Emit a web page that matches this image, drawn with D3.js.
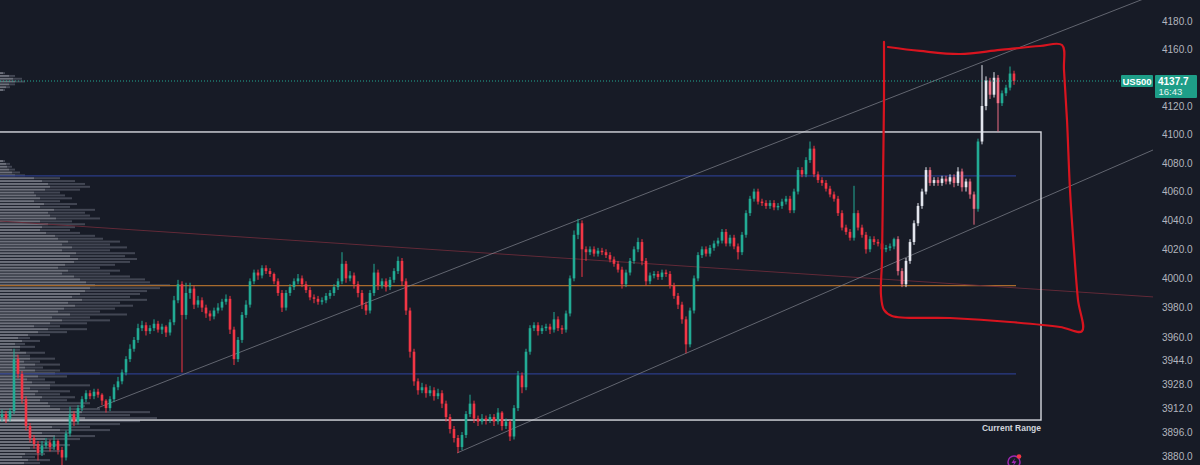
<!DOCTYPE html>
<html><head><meta charset="utf-8">
<script src="https://cdn.jsdelivr.net/npm/d3@7"></script>
<style>html,body{margin:0;padding:0;background:#171b26;overflow:hidden}</style>
</head><body><svg id="c" width="1200" height="465"></svg>
<script>
// ---------- DATA ----------
const symbol = "US500";
const lastPrice = 4137.7;
const countdown = "16:43";
const rangeLabel = "Current Range";
// 4140.0 sits behind the last-price label in the reference
const priceTicks = [4180,4160,4120,4100,4080,4060,4040,4020,4000,3980,3960,3944,3928,3912,3896,3880];
const firstOpen = 3906;
const closes = [
3908,3905,3910,3945,3935,3918,3900,3892,3888,3882,
3887,3889,3886,3890,3884,3879,3895,3908,3903,3912,
3918,3922,3920,3923,3921,3917,3912,3918,3926,3930,
3936,3945,3952,3958,3966,3968,3964,3966,3969,3965,
3967,3963,3970,3985,3996,3975,3990,3993,3982,3985,
3980,3976,3974,3978,3980,3984,3986,3965,3945,3958,
3975,3982,3998,4004,4002,4007,4005,4003,3998,3990,
3980,3990,3994,3998,4000,3996,3992,3987,3986,3984,
3985,3988,3990,3994,3998,4010,4000,4002,3996,3990,
3982,3978,3990,4004,3995,3998,3994,3999,4005,4012,
3998,3978,3950,3930,3924,3926,3922,3924,3920,3922,
3915,3906,3898,3892,3886,3894,3908,3915,3905,3903,
3905,3904,3906,3903,3909,3900,3903,3893,3912,3934,
3926,3950,3966,3968,3964,3966,3967,3965,3972,3966,
3965,3976,4000,4030,4038,4020,4018,4020,4017,4019,
4018,4016,4013,4010,4006,3996,4004,4012,4020,4025,
4012,3998,4002,4003,4001,4004,4003,3995,3988,3982,
3972,3955,3978,4000,4016,4020,4017,4021,4024,4026,
4032,4024,4028,4022,4018,4030,4045,4055,4060,4053,
4052,4050,4052,4049,4050,4053,4055,4047,4060,4075,
4072,4082,4090,4072,4068,4066,4062,4058,4055,4045,
4035,4032,4028,4045,4035,4030,4020,4027,4025,4024,
4020,4021,4022,4027,4005,3996,4012,4025,4038,4050,
4060,4075,4066,4068,4066,4069,4067,4070,4066,4074,
4063,4067,4058,4048,4095,4120,4138,4128,4140,4122,
4129,4133,4143,4137.7];
const highs = [
3911,3910,3912,3952,3948,3937,3920,3902,3894,3890,
3890,3892,3891,3893,3891,3886,3897,3913,3910,3914,
3920,3924,3924,3925,3925,3922,3918,3920,3928,3933,
3938,3947,3955,3960,3969,3971,3970,3968,3972,3971,
3969,3968,3972,3988,3999,3998,3997,3997,3995,3988,
3987,3982,3978,3980,3983,3986,3989,3988,3967,3960,
3977,3985,4000,4006,4006,4009,4009,4007,4004,4000,
3992,3992,3996,4000,4003,4002,3998,3994,3989,3988,
3987,3990,3992,3996,4000,4018,4012,4005,4004,3998,
3992,3984,3992,4010,4006,4000,4000,4001,4007,4015,
4014,4000,3980,3952,3932,3929,3928,3927,3926,3925,
3924,3917,3908,3900,3894,3896,3910,3921,3917,3907,
3908,3907,3908,3908,3912,3910,3905,3904,3914,3937,
3936,3952,3968,3970,3970,3968,3969,3969,3977,3974,
3968,3978,4002,4033,4041,4040,4022,4022,4022,4021,
4021,4020,4018,4015,4012,4008,4006,4014,4022,4028,
4027,4014,4004,4005,4005,4006,4006,4005,3997,3990,
3984,3974,3980,4002,4018,4022,4022,4023,4026,4028,
4034,4034,4030,4030,4024,4032,4047,4057,4062,4062,
4055,4054,4054,4054,4052,4055,4057,4057,4062,4077,
4077,4084,4095,4092,4074,4070,4068,4064,4060,4057,
4047,4037,4034,4064,4047,4037,4032,4029,4029,4027,
4026,4023,4024,4028,4029,4007,4014,4027,4040,4052,
4062,4077,4077,4070,4070,4071,4071,4072,4072,4077,
4076,4069,4069,4060,4097,4149,4141,4140,4144,4142,
4131,4135,4148,4145];
const lows = [
3903,3902,3903,3908,3932,3915,3897,3889,3885,3877,
3880,3885,3883,3884,3881,3874,3877,3893,3900,3901,
3910,3916,3918,3918,3919,3914,3909,3910,3916,3924,
3928,3934,3943,3950,3956,3964,3961,3962,3964,3963,
3962,3960,3961,3968,3983,3936,3972,3986,3979,3980,
3977,3973,3971,3972,3976,3978,3982,3962,3941,3943,
3956,3973,3980,3996,3999,4000,4003,4001,3996,3988,
3977,3978,3988,3992,3996,3994,3990,3985,3983,3982,
3982,3983,3986,3988,3992,3996,3997,3998,3993,3987,
3979,3975,3976,3988,3992,3993,3991,3992,3997,4003,
3995,3975,3946,3927,3921,3922,3919,3920,3917,3918,
3912,3903,3895,3889,3882,3884,3892,3906,3902,3900,
3901,3901,3902,3900,3901,3897,3898,3890,3891,3910,
3922,3924,3948,3964,3961,3962,3964,3962,3963,3964,
3962,3963,3974,3998,4027,4001,4012,4016,4015,4015,
4016,4014,4011,4008,4004,3993,3994,4002,4010,4018,
4009,3995,3996,4000,3999,3999,4001,3993,3986,3979,
3969,3949,3953,3976,3998,4014,4015,4015,4019,4022,
4024,4022,4022,4020,4013,4016,4028,4043,4053,4051,
4050,4048,4048,4047,4047,4048,4051,4045,4045,4058,
4070,4070,4080,4070,4066,4064,4060,4056,4053,4043,
4033,4030,4026,4026,4033,4028,4017,4018,4023,4022,
4018,4018,4019,4020,4002,3994,3994,4010,4023,4036,
4048,4058,4064,4064,4064,4064,4065,4065,4063,4064,
4060,4060,4055,4037,4046,4093,4117,4125,4126,4102,
4120,4127,4131,4135];
// candle index spans drawn in the "highlight" bar colours
const highlightSpans = [[224,243],[245,249]];

// volume profile (2-point price bins starting at vpBase)
const vpBase = 3874, vpStep = 2;
const vpUp = [
24,28,22,
25,36,30,40,32, 45,55,42,60,52, 70,78,85,74,82, 60,50,48,40,42,
35,38,30,50,32, 27,38,55,35,25, 35,24,30,18,26, 12,20,15,22,18,
28,38,48,34,50, 62,52,70,58,64, 75,68,82,72,80, 85,90,95,86,80,
74,62,68,58,65, 74,78,70,76,62, 72,62,68,58,55, 46,40,42,48,40,
56,50,48,54,40, 44,34,40,36,34, 45,50,48,42,34, 15,12,9,7,6,
3,
0,0,0,0,0,0,0,0,0,0,0,0,0,0,0,0,0,0,0,0,0,0,0,0,
3,6,9,15,13,9,3];
const vpDown = [
16,22,13,
20,24,25,30,18, 35,40,28,50,38, 50,62,72,56,68, 40,35,42,27,33,
25,32,20,40,23, 18,29,45,25,18, 25,16,25,12,19, 8,15,10,18,12,
22,29,39,26,37, 48,38,57,42,51, 58,52,65,58,60, 62,70,75,64,65,
56,48,52,42,50, 56,59,55,59,48, 55,48,52,45,40, 34,30,33,37,32,
44,40,37,41,30, 33,26,32,29,26, 35,40,37,33,26, 10,8,6,5,4,
2,
0,0,0,0,0,0,0,0,0,0,0,0,0,0,0,0,0,0,0,0,0,0,0,0,
2,4,6,10,9,6,2];

// horizontal levels
const blueLevels = [4071, 3935];
const orangeLevel = 3995;
// range box (candle index span + price span)
const rangeStart = -40, rangeEnd = 259.75, rangeTop = 4101.7, rangeBottom = 3904;
// trend lines: [index, price] pairs
const upperChannel = [[23.75,3912],[274.5,4184.1]];
const lowerChannel = [[113.75,3882],[274.5,4072.9]];
const fallingLine = [[-0.5,4039.5],[299.5,3985.2]];
// hand drawn annotation (index, price)
const annotation = [[220.5,4165.5],[220.5,4124.2],[220.25,4068.0],[220,4012.6],[219.75,3988.6],[220.5,3978.4],[222.5,3974.3],[237,3972.9],[252,3970.2],[264.5,3966.8],[270,3964.0],[269,3985.2],[268,4019.5],[267,4061.1],[266.25,4110.1],[265.5,4145.5],[265,4163.3],[259.5,4162.6],[249.5,4159.8],[239.5,4156.9],[229.5,4159.1],[221.5,4161.9]];

// ---------- CHART ----------
const W = 1200, H = 465, plotRight = 1153;
const svg = d3.select('#c');
const FONT = '"Liberation Sans", Arial, sans-serif';
svg.append('rect').attr('width', W).attr('height', H).attr('fill', '#171b26');
svg.append('defs').append('clipPath').attr('id','clip').append('rect').attr('x',0).attr('y',0).attr('width',plotRight).attr('height',H);

const y = d3.scaleLog().domain([3880, 4180]).range([456, 21.7]);
const x = d3.scaleLinear().domain([-0.5, 253.5]).range([0, 1016]);
const vpW = d3.scaleLinear().domain([0, 170]).range([0, 170]);

const g = svg.append('g').attr('clip-path','url(#clip)');

// volume profile
const vp = g.append('g');
vpUp.forEach((u, k) => {
  const d = vpDown[k];
  if (u + d <= 0) return;
  const p0 = vpBase + k * vpStep;
  const yTop = y(p0 + vpStep), yBot = y(p0);
  const h = Math.max(1, (yBot - yTop) - 0.9);
  vp.append('rect').attr('x', 0).attr('y', yTop).attr('width', vpW(u)).attr('height', h).attr('fill', '#777a85').attr('opacity', 0.9);
  vp.append('rect').attr('x', vpW(u)).attr('y', yTop).attr('width', vpW(d)).attr('height', h).attr('fill', '#454955').attr('opacity', 0.95);
});

// horizontal levels
const lvlEnd = x(253.5);
blueLevels.forEach(p => {
  g.append('line').attr('x1', 0).attr('x2', lvlEnd).attr('y1', y(p)).attr('y2', y(p)).attr('stroke', '#2b3d88').attr('stroke-width', 1.2);
});
g.append('line').attr('x1', 0).attr('x2', lvlEnd).attr('y1', y(orangeLevel)).attr('y2', y(orangeLevel)).attr('stroke', '#a86b2d').attr('stroke-width', 1.2);

// trend lines (extended as rays to the right)
function ray(pts, color, width, opacity, extend) {
  const [a, b] = pts;
  const x1 = x(a[0]), y1 = y(a[1]), x2 = x(b[0]), y2 = y(b[1]);
  let xe = x2, ye = y2;
  if (extend) { const s = (y2 - y1) / (x2 - x1); xe = W; ye = y2 + s * (W - x2); }
  g.append('line').attr('x1', x1).attr('y1', y1).attr('x2', xe).attr('y2', ye)
    .attr('stroke', color).attr('stroke-width', width).attr('opacity', opacity);
}
ray(fallingLine, '#6b2c3a', 1, 0.9, false);
ray(upperChannel, '#8a8d97', 1, 0.65, true);
ray(lowerChannel, '#8a8d97', 1, 0.65, true);

// range box
g.append('rect').attr('x', x(rangeStart)).attr('y', y(rangeTop))
  .attr('width', x(rangeEnd) - x(rangeStart)).attr('height', y(rangeBottom) - y(rangeTop))
  .attr('fill', 'none').attr('stroke', '#d6d8de').attr('stroke-width', 1.4);
svg.append('text').attr('x', x(rangeEnd)).attr('y', y(rangeBottom) + 10.5).attr('text-anchor', 'end')
  .attr('font-family', FONT).attr('font-size', 8.5).attr('font-weight', 'bold').attr('fill', '#d1d4dc').text(rangeLabel);

// candles
const inHi = i => highlightSpans.some(([a, b]) => i >= a && i <= b);
const cg = g.append('g');
closes.forEach((c, i) => {
  const o = i === 0 ? firstOpen : closes[i - 1];
  const up = c >= o;
  let col = up ? '#22ab94' : '#f23645';
  if (inHi(i)) col = up ? '#e3e6ee' : '#ee6f84';
  const cx = x(i);
  cg.append('line').attr('x1', cx).attr('x2', cx).attr('y1', y(highs[i])).attr('y2', y(lows[i]))
    .attr('stroke', col).attr('stroke-width', 1);
  const yt = y(Math.max(o, c)), yb = y(Math.min(o, c));
  cg.append('rect').attr('x', cx - 1.3).attr('y', yt).attr('width', 2.6).attr('height', Math.max(1, yb - yt)).attr('fill', col);
});

// last price dotted line
g.append('line').attr('x1', 0).attr('x2', 1121).attr('y1', y(lastPrice)).attr('y2', y(lastPrice))
  .attr('stroke', '#22ab94').attr('stroke-width', 1).attr('stroke-dasharray', '1,2');

// hand drawn annotation
g.append('path').datum(annotation)
  .attr('d', d3.line().x(d => x(d[0])).y(d => y(d[1])).curve(d3.curveCatmullRom.alpha(0.5)))
  .attr('fill', 'none').attr('stroke', '#d8141f').attr('stroke-width', 2.2).attr('stroke-linecap', 'round').attr('stroke-linejoin', 'round');

// price axis
const ax = svg.append('g').attr('transform', 'translate(1162,0)')
  .call(d3.axisRight(y).tickValues(priceTicks).tickFormat(d3.format('.1f')).tickSize(0).tickPadding(0));
ax.select('.domain').remove();
ax.selectAll('text').attr('font-family', FONT).attr('font-size', 10).attr('fill', '#b2b5be');

// last price labels
const yl = y(lastPrice);
svg.append('rect').attr('x', 1121).attr('y', yl - 6).attr('width', 32).attr('height', 12).attr('fill', '#1e9e88').attr('rx', 1);
svg.append('text').attr('x', 1137).attr('y', yl + 3.6).attr('text-anchor', 'middle').attr('font-family', FONT)
  .attr('font-size', 9.5).attr('font-weight', 'bold').attr('fill', '#ffffff').text(symbol);
svg.append('rect').attr('x', 1155).attr('y', yl - 6).attr('width', 42).attr('height', 23).attr('fill', '#1e9e88').attr('rx', 1);
svg.append('text').attr('x', 1158).attr('y', yl + 3.6).attr('font-family', FONT)
  .attr('font-size', 10).attr('font-weight', 'bold').attr('fill', '#ffffff').text(d3.format('.1f')(lastPrice));
svg.append('text').attr('x', 1158.5).attr('y', yl + 14).attr('font-family', FONT)
  .attr('font-size', 9.5).attr('fill', '#e8f5f2').text(countdown);

// small lightning icon at the bottom
const ic = svg.append('g').attr('transform', 'translate(1014,462)');
ic.append('circle').attr('r', 6).attr('fill', 'none').attr('stroke', '#9c27b0').attr('stroke-width', 1.5);
ic.append('path').attr('d', 'M1,-4 L-2.5,1 L0,1 L-1,4.5 L2.5,-0.8 L0,-0.8 Z').attr('fill', '#9c27b0');
ic.append('circle').attr('cx', 5).attr('cy', -5.5).attr('r', 2.3).attr('fill', '#f23645');
</script>
</body></html>
